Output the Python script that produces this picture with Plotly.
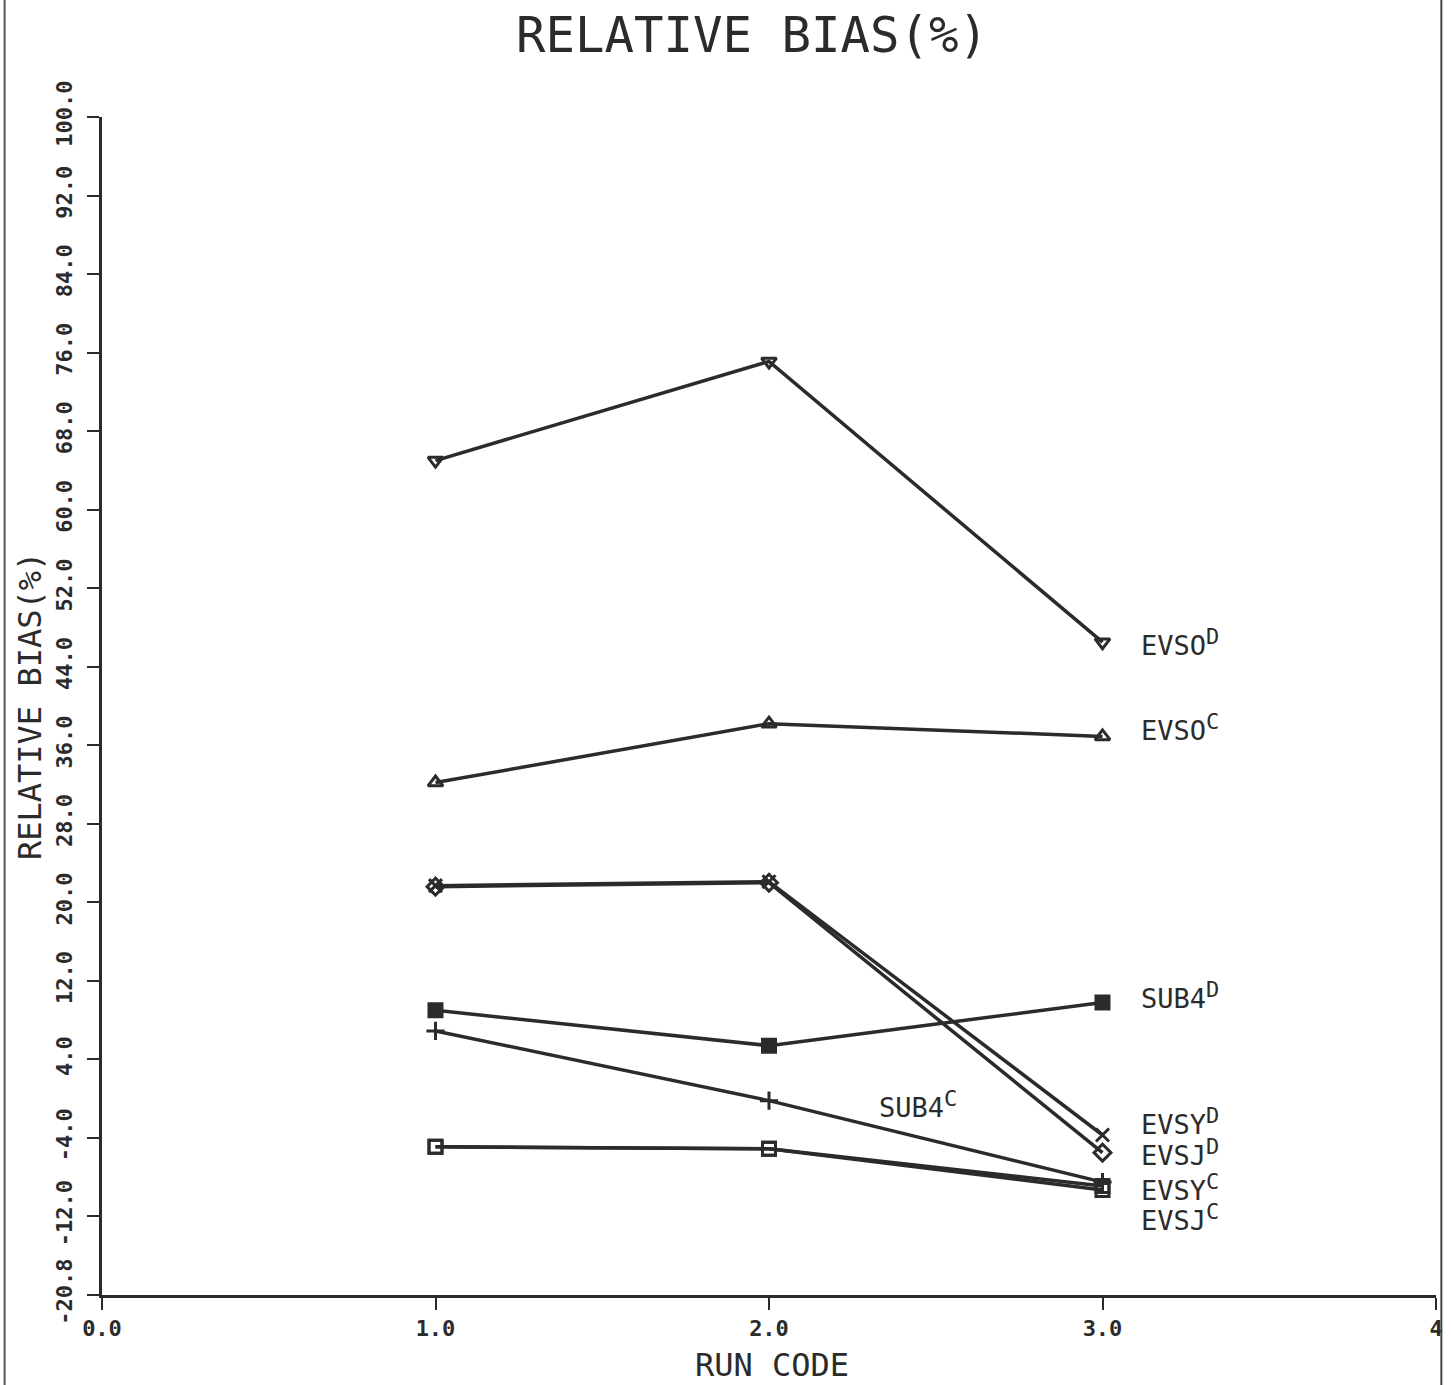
import plotly.graph_objects as go

run_code = [1.0, 2.0, 3.0]

evso_d = [65.0, 75.1, 46.5]
evso_c = [32.2, 38.2, 36.9]
evsy_d = [21.7, 22.1, -3.7]
evsj_d = [21.6, 22.0, -5.5]
sub4_d = [9.0, 5.4, 9.8]
sub4_c = [6.9, -0.2, -8.5]
evsy_c = [-4.9, -5.1, -8.9]
evsj_c = [-4.9, -5.1, -9.3]

y_tickvals = [-20, -12, -4, 4, 12, 20, 28, 36, 44, 52, 60, 68, 76, 84, 92, 100]
y_ticktext = ["-20.8", "-12.0", "-4.0", "4.0", "12.0", "20.0", "28.0", "36.0",
              "44.0", "52.0", "60.0", "68.0", "76.0", "84.0", "92.0", "100.0"]
x_tickvals = [0, 1, 2, 3, 4]
x_ticktext = ["0.0", "1.0", "2.0", "3.0", "4"]

INK = "#2b2b2b"
FONT = "DejaVu Sans Mono"


def lab(base, sup):
    return f"{base}<sup><span style='font-size:22px'>{sup}</span></sup>"


series = [
    ("EVSO", "D", evso_d, "triangle-down-open", 0, 0),
    ("EVSO", "C", evso_c, "triangle-up-open", 0, 9),
    ("EVSY", "D", evsy_d, "x-thin-open", 0, 13),
    ("EVSJ", "D", evsj_d, "diamond-open", 0, 0),
    ("SUB4", "D", sub4_d, "square", 0, 7),
    ("SUB4", "C", sub4_c, "cross-thin-open", 1, -4),
    ("EVSY", "C", evsy_c, "square-open", 0, -1),
    ("EVSJ", "C", evsj_c, "square-open", 0, -28),
]

fig = go.Figure()
annotations = []
for base, sup, vals, sym, lab_idx, yshift in series:
    name = lab(base, sup)
    fig.add_trace(go.Scatter(
        x=run_code, y=vals, mode="lines+markers", name=f"{base}{sup}",
        line=dict(color=INK, width=3.5),
        marker=dict(symbol=sym, size=13, color=INK, line=dict(color=INK, width=3)),
        showlegend=False,
    ))
    if lab_idx == 0:
        annotations.append(dict(
            x=run_code[-1], y=vals[-1], xref="x", yref="y", text=name,
            showarrow=False, xanchor="left", yanchor="middle",
            xshift=36, yshift=yshift,
            font=dict(family=FONT, size=27, color=INK),
        ))
    else:
        annotations.append(dict(
            x=run_code[1], y=vals[1], xref="x", yref="y", text=name,
            showarrow=False, xanchor="left", yanchor="middle",
            xshift=108, yshift=yshift,
            font=dict(family=FONT, size=27, color=INK),
        ))

annotations += [
    dict(text="RELATIVE BIAS(%)", xref="paper", yref="paper", x=0.487, y=1.0,
         yshift=82, showarrow=False, xanchor="center", yanchor="middle",
         font=dict(family=FONT, size=49, color=INK)),
    dict(text="RELATIVE BIAS(%)", xref="paper", yref="paper", x=0.0, y=0.5,
         xshift=-72, showarrow=False, textangle=-90, xanchor="center",
         yanchor="middle", font=dict(family=FONT, size=32, color=INK)),
    dict(text="RUN CODE", xref="paper", yref="paper", x=0.502, y=0.0,
         yshift=-70, showarrow=False, xanchor="center", yanchor="middle",
         font=dict(family=FONT, size=32, color=INK)),
]

fig.update_layout(
    width=1451, height=1385,
    margin=dict(l=102, r=8, t=117, b=90),
    paper_bgcolor="white", plot_bgcolor="white",
    annotations=annotations,
    shapes=[
        dict(type="line", xref="paper", yref="paper", x0=-0.073, x1=-0.073,
             y0=-0.08, y1=1.1, line=dict(color="#555", width=2)),
        dict(type="line", xref="paper", yref="paper", x0=1.004, x1=1.004,
             y0=-0.08, y1=1.1, line=dict(color="#444", width=2)),
    ],
)
fig.update_xaxes(
    range=[0, 4], tickvals=x_tickvals, ticktext=x_ticktext,
    showgrid=False, zeroline=False, showline=True, linecolor=INK, linewidth=3,
    ticks="outside", ticklen=12, tickwidth=2, tickcolor=INK,
    tickfont=dict(family=FONT, size=22, color=INK, weight="bold"),
)
fig.update_yaxes(
    range=[-20, 100], tickvals=y_tickvals, ticktext=y_ticktext,
    showgrid=False, zeroline=False, showline=True, linecolor=INK, linewidth=3,
    ticks="outside", ticklen=12, tickwidth=2, tickcolor=INK, tickangle=-90,
    ticklabelstandoff=6,
    tickfont=dict(family=FONT, size=22, color=INK, weight="bold"),
)

fig.write_html(
    "out.html",
    config={"displayModeBar": False},
    post_script="document.body.style.margin='0';document.body.style.overflow='hidden';",
)
